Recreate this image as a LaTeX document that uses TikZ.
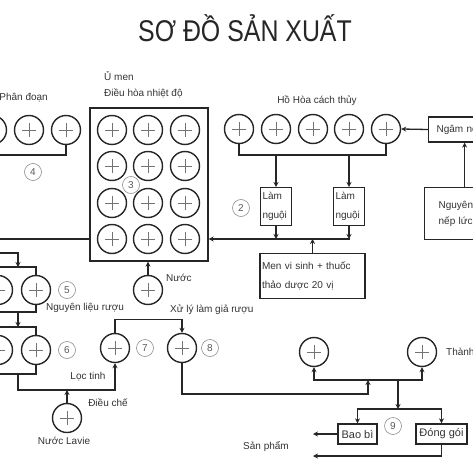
\documentclass[tikz,border=0pt]{standalone}
\usepackage{fontspec}
\setmainfont{Liberation Sans}
\usetikzlibrary{arrows.meta}

\begin{document}
\begin{tikzpicture}[x=1pt,y=-1pt,
        pot/.style={circle,draw=black!85,line width=1.4pt,minimum size=29pt,inner sep=0pt,
            path picture={\draw[black!55,line width=0.6pt]
                ([xshift=-7pt]path picture bounding box.center) -- ([xshift=7pt]path picture bounding box.center)
                ([yshift=-7pt]path picture bounding box.center) -- ([yshift=7pt]path picture bounding box.center);}},
        num/.style={circle,draw=black!45,line width=0.6pt,minimum size=17pt,inner sep=0pt,text=black!65,
            font=\fontsize{10}{10}\selectfont},
        box/.style={draw=black!85,line width=1.3pt,inner sep=2pt,text=black!80,align=left,
            font=\fontsize{10}{19}\selectfont},
        lbl/.style={text=black!80,font=\fontsize{10}{11}\selectfont,inner sep=0pt},
        flow/.style={draw=black!85,line width=1.3pt},
        arr/.style={flow,-{Stealth[length=5pt,width=5pt]}}]
        \useasboundingbox (0,0) rectangle (473,473);
        \clip (0,0) rectangle (473,473);
        \node[font=\fontsize{30}{30}\selectfont,text=black!85] (title) at (245,28) {\scalebox{0.83}[1]{SƠ ĐỒ SẢN XUẤT}};
        % Phan doan
        \node[pot] (pd1) at (-8,130) {}; \node[pot] (pd2) at (29,130) {}; \node[pot] (pd3) at (66,130) {};
        \node[lbl,anchor=east] (pdtext) at (48,98) {Phân đoạn};
        \node[num] (n4) at (33,172) {4};
        \coordinate (pdend) at (-10,155);
        \draw[flow] (pd3.south) |- (pdend);
        % U men
        \node[draw=black!85,line width=1.3pt,minimum width=118pt,minimum height=153pt] (umen) at (149,184.5) {};
        \node[lbl,anchor=west] (umtext) at (104,76) {Ủ men};
        \node[lbl,anchor=west] (dhtext) at (104,93) {Điều hòa nhiệt độ};
        \node[pot] (m11) at (112,130) {}; \node[pot] (m12) at (148,130) {}; \node[pot] (m13) at (185,130) {};
        \node[pot] (m21) at (112,166) {}; \node[pot] (m22) at (148,166) {}; \node[pot] (m23) at (185,166) {};
        \node[pot] (m31) at (112,203) {}; \node[pot] (m32) at (148,203) {}; \node[pot] (m33) at (185,203) {};
        \node[pot] (m41) at (112,239) {}; \node[pot] (m42) at (148,239) {}; \node[pot] (m43) at (185,239) {};
        \node[num,fill=white] (n3) at (131,185) {3};
        \node[pot] (nuoc) at (148,290) {};
        \node[lbl,anchor=west] (nuoctext) at (166,278) {Nước};
        \draw[arr] (nuoc) -- (nuoc |- umen.south);
        % Nguyen lieu ruou
        \coordinate (l0) at (-10,239);
        \draw[flow] (umen.west |- m41) -- (l0);
        \coordinate (l1) at (-10,253);
        \coordinate (g5) at (18,267);
        \draw[arr] (l1) -| (g5);
        \node[pot] (a1) at (-2,290) {}; \node[pot] (a2) at (36,290) {};
        \coordinate (b5t) at (-10,267); \coordinate (b5b) at (-10,312);
        \draw[flow] (b5t) -| (a2.north); \draw[flow] (b5b) -| (a2.south);
        \draw[flow] (a1.north) |- (b5t); \draw[flow] (a1.south) |- (b5b);
        \node[num] (n5) at (67,290) {5};
        \node[lbl,anchor=west] (nltext) at (46,308) {Nguyên liệu rượu};
        \coordinate (d5) at (18,312); \coordinate (d6) at (18,327);
        \draw[arr] (d5) -- (d6);
        \node[pot] (c1) at (-2,350) {}; \node[pot] (c2) at (36,350) {};
        \coordinate (b6t) at (-10,327); \coordinate (b6b) at (-10,374);
        \draw[flow] (b6t) -| (c2.north); \draw[flow] (b6b) -| (c2.south);
        \draw[flow] (c1.north) |- (b6t); \draw[flow] (c1.south) |- (b6b);
        \node[num] (n6) at (67,350) {6};
        % Loc tinh, dieu che
        \node[pot] (p7) at (115,348) {}; \node[num] (n7) at (145,348) {7};
        \node[pot] (p8) at (182,348) {}; \node[num] (n8) at (210,348) {8};
        \coordinate (d7) at (18,374); \coordinate (mix) at (67,390);
        \draw[arr] (d7) -- ++(0,16) -| (p7.south);
        \node[pot] (lavie) at (67,418) {};
        \draw[arr] (lavie) -- (mix);
        \node[lbl] (lavtext) at (64,441) {Nước Lavie};
        \node[lbl] (loctext) at (88,377) {Lọc tinh};
        \node[lbl] (dctext) at (108,403) {Điều chế};
        \node[lbl,anchor=west] (xltext) at (170,310) {Xử lý làm giả rượu};
        \draw[arr] (p7.north) -- ++(0,-13) -| (p8.north);
        % Thanh pham
        \node[pot] (tp1) at (314,352) {}; \node[pot] (tp2) at (422,352) {};
        \node[lbl,anchor=west] (tptext) at (446,352) {Thành phẩm};
        \coordinate (jbase) at (368,394); \coordinate (join) at (368,380); \coordinate (split) at (398,380);
        \draw[arr] (p8.south) |- (jbase) -- (join);
        \draw[arr] (split) -| (tp1.south); \draw[arr] (split) -| (tp2.south);
        \coordinate (pk) at (398,409);
        \draw[arr] (split) -- (pk);
        \node[box,minimum width=39pt,minimum height=20pt,inner sep=1pt,font=\fontsize{11}{12}\selectfont] (baobi) at (357.5,434) {Bao bì};
        \node[box,minimum width=51pt,minimum height=20pt,inner sep=1pt,font=\fontsize{11}{12}\selectfont] (donggoi) at (441.5,434) {Đóng gói};
        \draw[arr] (pk) -| (baobi.north); \draw[arr] (pk) -| (donggoi.north);
        \node[num] (n9) at (393,426) {9};
        \coordinate (sp1) at (313,434); \coordinate (sp2) at (313,456);
        \draw[arr] (baobi.west) -- (sp1); \draw[arr] (donggoi.south) |- (sp2);
        \node[lbl] (sptext) at (266,446) {Sản phẩm};
        % Ho hoa cach thuy
        \node[lbl] (hotext) at (317,101) {Hồ Hòa cách thủy};
        \node[pot] (h1) at (239,129) {}; \node[pot] (h2) at (276,129) {}; \node[pot] (h3) at (313,129) {};
        \node[pot] (h4) at (349,129) {}; \node[pot] (h5) at (386,129) {};
        \coordinate (hb) at (239,155);
        \draw[flow] (h1.south) |- (hb) -| (h5.south);
        \node[box,text width=27pt,minimum height=38pt,inner xsep=2pt,anchor=north] (lam1) at (276,187) {Làm\\nguội};
        \node[box,text width=27pt,minimum height=38pt,inner xsep=2pt,anchor=north] (lam2) at (349,187) {Làm\\nguội};
        \draw[arr] (lam1.north |- hb) -- (lam1.north); \draw[arr] (lam2.north |- hb) -- (lam2.north);
        \node[num] (n2) at (241,208) {2};
        \coordinate (bus) at (350,239);
        \draw[arr] (lam1.south) -- (lam1.south |- bus); \draw[arr] (lam2.south) -- (lam2.south |- bus);
        \draw[arr] (bus) -- (umen.east |- bus);
        \node[box,text width=101pt,minimum height=45pt,anchor=north] (men) at (312.5,253) {Men vi sinh + thuốc\\thảo dược 20 vị};
        \draw[arr] (men.north) -- (men.north |- bus);
        % Ngam
        \node[box,text width=56pt,inner xsep=8pt,minimum height=25pt,anchor=west] (ngam) at (428,129.5) {Ngâm nếp};
        \draw[arr] (ngam.west) -- (h5.east);
        \node[box,text width=52pt,inner xsep=14pt,minimum height=52pt,anchor=north west,font=\fontsize{10}{16}\selectfont] (nguyen) at (424,187) {\mbox{Nguyên liệu}\\\mbox{nếp lức}};
        \draw[arr] (nguyen.north) -- (ngam.south);
    \end{tikzpicture}
\end{document}
